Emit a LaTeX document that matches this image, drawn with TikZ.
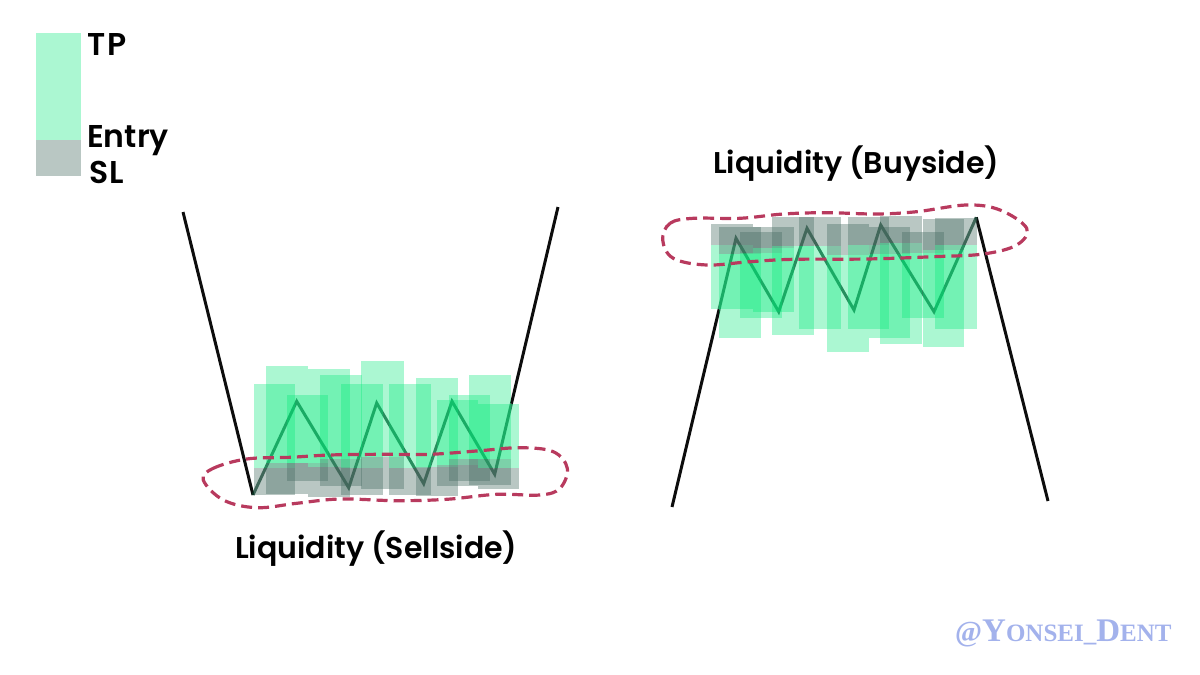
\documentclass[tikz,border=0pt]{standalone}
\usepackage{fontspec}
\setmainfont{Poppins}[BoldFont={Poppins SemiBold}]
\newfontfamily\markfont{Liberation Serif}
\definecolor{tpgreen}{RGB}{0,232,118}
\definecolor{slgrey}{RGB}{70,107,97}
\definecolor{swinggreen}{RGB}{10,60,40}
\definecolor{zonered}{RGB}{184,58,94}
\definecolor{markblue}{RGB}{163,178,236}
\tikzset{
	price/.style={line width=3pt, black!95},
	swing/.style={line width=3pt, swinggreen, opacity=0.8},
	tpbox/.style={fill=tpgreen, fill opacity=0.33},
	slbox/.style={fill=slgrey, fill opacity=0.38},
	zone/.style={line width=3.2pt, zonered, dash pattern=on 11pt off 6pt},
	label/.style={anchor=base west, inner sep=0pt, font=\bfseries\fontsize{30}{30}\selectfont},
	keylabel/.style={label, font=\bfseries\fontsize{31.5}{32}\selectfont},
}

\begin{document}
\begin{tikzpicture}[x=1pt, y=-1pt]
	\useasboundingbox (0,0) rectangle (1200,675);

	% legend
	\fill[tpbox] (36,33) rectangle (81,140);
	\fill[slbox] (36,140) rectangle (81,176);
	\node[keylabel] (tp) at (87,55) {T\kern2pt P};
	\node[keylabel] (entry) at (87,147) {Entry};
	\node[keylabel] (sl) at (89,183) {S\kern1pt L};

	% sellside
	\draw[price] (183,212) -- (253,495);
	\draw[price] (511.4,403.7) -- (558,207);
	\draw[swing] (253,495) -- (296.7,401.3) -- (348.7,487.7) -- (376.7,403) -- (423.7,483.7) -- (452,401.3) -- (494.7,474.3) -- (511.4,403.7);
	\begin{scope}[shift={(180,340)}, x=0.3333pt, y=-0.3333pt]
		\foreach \xa/\xb/\ya/\yb/\yc in {221/346/133/385/465, 258/385/79/370/463, 320/445/166/368/422, 385/511/88/380/472, 421/545/104/358/438, 484/608/133/384/466, 544/671/63/352/447, 628/752/133/385/466, 709/834/113/381/467, 771/895/181/376/438, 807/931/166/358/422, 868/993/105/356/436, 894/1018/191/385/446} {
			\fill[tpbox] (\xa,\ya) rectangle (\xb,\yb);
			\fill[slbox] (\xa,\yb) rectangle (\xb,\yc);
		}
	\end{scope}
	\draw[zone] plot[smooth cycle, tension=0.6] coordinates {(203.3,480) (213.3,468.3) (246.7,459) (290,457.3) (330,455) (380,454.3) (430,454.3) (480,450.7) (520,447.7) (553.3,451.7) (567.3,468.3) (560,488.3) (540,495) (496.7,494.3) (446.7,499.3) (396.7,500.7) (340,499) (296.7,503.3) (256.7,507.7) (223.3,500)};
	\node[label] (sell) at (235,558) {Liquidity (Sellside)};

	% buyside
	\draw[price] (672,507) -- (719.1,309.3);
	\draw[price] (976.3,217.3) -- (1048,501);
	\draw[swing] (719.1,309.3) -- (736,238.3) -- (778.7,311.7) -- (807,228.3) -- (854,310) -- (880.7,225) -- (934,311.7) -- (976.3,217.3);
	\begin{scope}[shift={(650,190)}, x=0.3333pt, y=-0.3333pt]
		\foreach \xa/\xb/\ya/\yb/\yc in {182/308/103/165/358, 208/332/111/193/445, 270/396/127/190/383, 308/431/111/175/367, 367/492/82/167/436, 448/573/82/167/417, 531/657/103/195/487, 593/718/82/165/417, 656/780/111/193/445, 691/817/77/160/461, 755/881/127/190/383, 818/943/86/180/470, 856/981/83/165/417} {
			\fill[slbox] (\xa,\ya) rectangle (\xb,\yb);
			\fill[tpbox] (\xa,\yb) rectangle (\xb,\yc);
		}
	\end{scope}
	\draw[zone] plot[smooth cycle, tension=0.6] coordinates {(662.7,240) (670,223.3) (693.3,218.3) (740,218.3) (783.3,214) (826.7,212.7) (876.7,214) (916.7,211.7) (966.7,205) (1000,210) (1026.7,228.3) (1016.7,245) (983.3,254) (933.3,256.7) (866.7,259) (793.3,259.3) (750,261.7) (706.7,265) (673.3,258.3)};
	\node[label] (buy) at (713,173) {Liquidity (Buyside)};

	% watermark
	\node[anchor=base west, inner sep=0pt, markblue, font=\markfont\bfseries\fontsize{25}{25}\selectfont] (mark) at (955,641) {\fontsize{29}{29}\selectfont @\fontsize{33}{33}\selectfont Y\fontsize{25}{25}\selectfont ONSEI\_\fontsize{33}{33}\selectfont D\fontsize{25}{25}\selectfont ENT};
\end{tikzpicture}
\end{document}
